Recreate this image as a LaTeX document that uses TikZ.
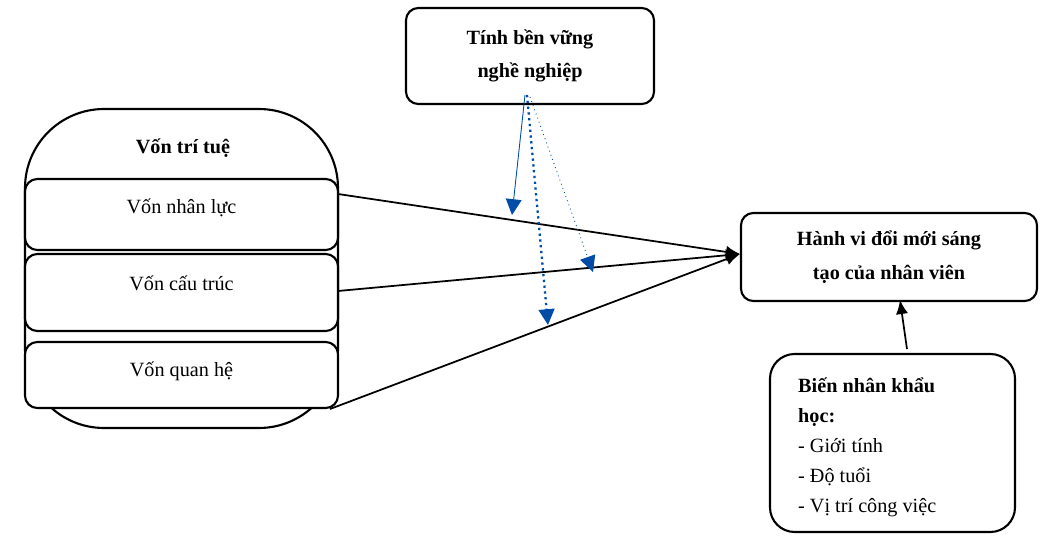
\documentclass[tikz,border=0pt]{standalone}
\usepackage{fontspec}
\setmainfont{Liberation Serif}
\usetikzlibrary{arrows.meta}
\tikzset{
  box/.style={draw,line width=1.2pt,rounded corners=7pt,inner sep=0pt},
  link/.style={line width=1pt,-{Latex[length=8pt,width=7pt]}},
  blue link/.style={color=blue!50!black!70!cyan,-{Triangle[length=9pt,width=9pt]}}
}
\begin{document}
\begin{tikzpicture}[x=0.02cm,y=-0.02cm,font=\fontsize{11.5}{15}\selectfont]
                \useasboundingbox (0,0) rectangle (1046,537);
                % khung lon
                \draw[line width=1.2pt,rounded corners=45pt] (25,109) rectangle (338,428);
                \node[font=\fontsize{11.5}{15}\selectfont\bfseries] (vtt) at (183,148) {Vốn trí tuệ};
                \foreach \n/\t/\b/\s in {nl/179/250/Vốn nhân lực,ct/254/331/Vốn cấu trúc,qh/342/408/Vốn quan hệ}
                {
                \node[box,minimum width=313*0.02cm,minimum height={(\b-\t)*0.02cm},fill=white] (\n) at (181.5,{(\t+\b)/2}) {};
                \node (\n t) at (181.5,{\t+29}) {\s};
                }
                
                \node[box,minimum width=248*0.02cm,minimum height=96*0.02cm,align=center,font=\fontsize{11.5}{19}\selectfont\bfseries] (bv) at (530,56) {Tính bền vững\\nghề nghiệp};
                \node[box,minimum width=296*0.02cm,minimum height=88*0.02cm,align=center,font=\fontsize{11.5}{19}\selectfont\bfseries] (hv) at (889,257) {Hành vi đổi mới sáng\\tạo của nhân viên};
                \node[box,rounded corners=14pt,minimum width=245*0.02cm,minimum height=178*0.02cm] (bn) at (892.5,443) {};
                \node[anchor=north west,align=left,font=\fontsize{11.5}{17}\selectfont] (bnt) at (792,372) {\textbf{Biến nhân khẩu}\\\textbf{học:}\\- Giới tính\\- Độ tuổi\\- Vị trí công việc};
                
                \coordinate (hvin) at (740,254);
                \draw[link] (338,194) -- (hvin);
                \draw[link] (338,291) -- (hvin);
                \draw[link] (330,409) -- (hvin);
                \draw[link] (907,349) -- (900,300);
                
                \draw[blue link,line width=0.5pt] (525,95) -- (512,215);
                \draw[blue link,line width=1.3pt,dotted] (527,95) -- (548,325);
                \draw[blue link,line width=0.5pt,dotted] (530,97) -- (593,272);
            \end{tikzpicture}
\end{document}
